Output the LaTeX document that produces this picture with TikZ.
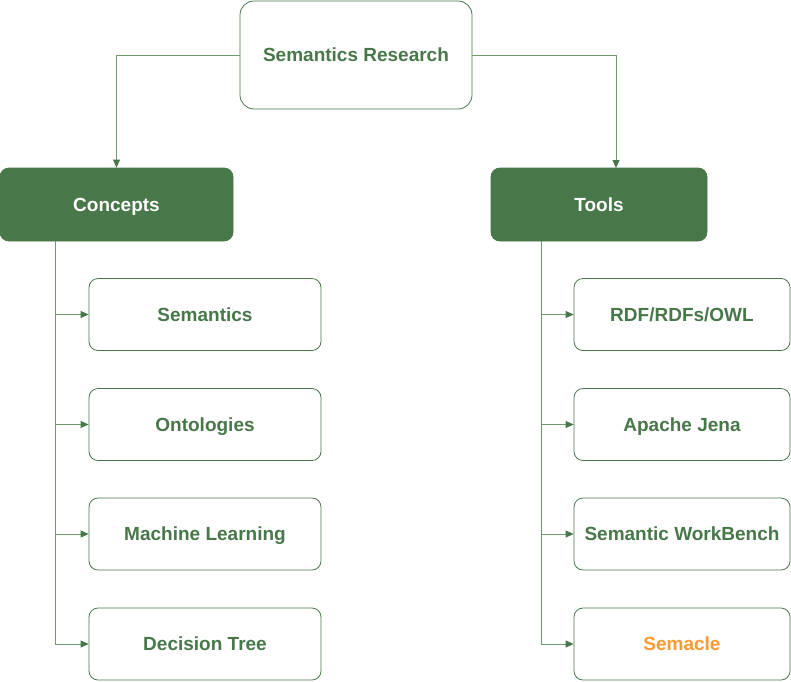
\documentclass[tikz,border=0pt]{standalone}
\usepackage{fontspec}
\setmainfont{Liberation Sans}
\usetikzlibrary{arrows.meta}
\definecolor{dg}{HTML}{48784A}
\definecolor{ln}{HTML}{6E9A6E}
\definecolor{org}{HTML}{FF9933}
\begin{document}
\begin{tikzpicture}[x=1pt,y=-1pt,
  box/.style={draw=dg,line width=0.8pt,rounded corners=9pt,fill=white,font=\bfseries\fontsize{19}{22}\selectfont,text=dg,inner sep=0pt,text height=14pt,text depth=1pt},
  hdr/.style={draw=dg,fill=dg,line width=0.8pt,rounded corners=9pt,font=\bfseries\fontsize{19}{22}\selectfont,text=white,inner sep=0pt,text height=14pt,text depth=1pt},
  conn/.style={draw=ln,line width=0.8pt,-{Triangle[length=8pt,width=7pt,color=dg]}}]
\useasboundingbox (0,0) rectangle (791,681);
\node[box,minimum width=232pt,minimum height=108pt,rounded corners=14pt] (root) at (356,55) {Semantics Research};
\node[hdr,minimum width=233pt,minimum height=73pt] (con) at (116.5,204.5) {Concepts};
\node[hdr,minimum width=216pt,minimum height=73pt] (tool) at (599,204.5) {Tools};
\foreach \n/\y/\t in {a/314.5/Semantics,b/424.5/Ontologies,c/534/Machine Learning,d/644/Decision Tree}{
  \node[box,minimum width=232pt,minimum height=72pt] (L\n) at (205,\y) {\t};
}
\foreach \n/\y/\t in {a/314.5/{RDF/RDFs/OWL},b/424.5/{Apache Jena},c/534/{Semantic WorkBench}}{
  \node[box,minimum width=216pt,minimum height=72pt] (R\n) at (682,\y) {\t};
}
\node[box,minimum width=216pt,minimum height=72pt,text=org] (Rd) at (682,644) {Semacle};
\coordinate (lc) at (55,241);
\coordinate (rc) at (541,241);
\coordinate (tt) at (616,168);
\draw[conn] (root.west) -| (con.north);
\draw[conn] (root.east) -| (tt);
\foreach \n in {a,b,c,d}{
  \draw[conn] (lc) |- (L\n.west);
  \draw[conn] (rc) |- (R\n.west);
}
\end{tikzpicture}
\end{document}
